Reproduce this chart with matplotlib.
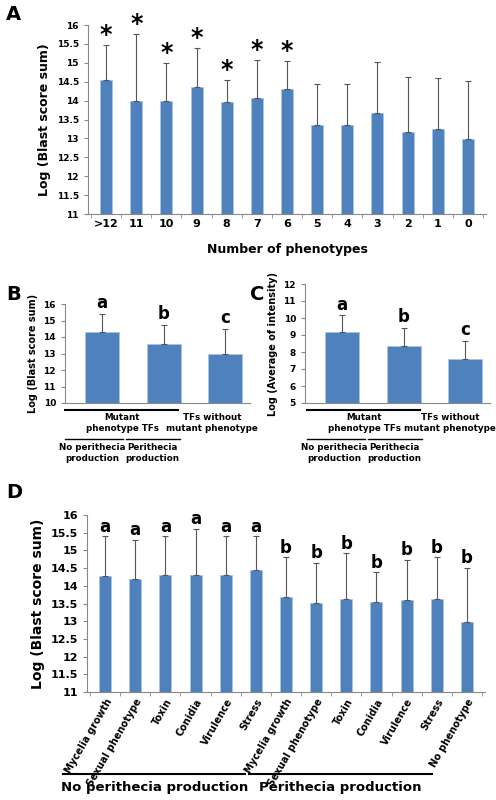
import matplotlib
matplotlib.use("Agg")
import matplotlib.pyplot as plt
from matplotlib.lines import Line2D

a_cats = [">12", "11", "10", "9", "8", "7", "6", "5", "4", "3", "2", "1", "0"]
a_vals = [14.55, 14.0, 14.0, 14.35, 13.97, 14.07, 14.3, 13.35, 13.35, 13.68, 13.17, 13.25, 12.98]
a_top = [15.47, 15.75, 15.0, 15.4, 14.55, 15.07, 15.05, 14.43, 14.43, 15.02, 14.62, 14.6, 14.53]
a_star = [True] * 7 + [False] * 6

b_vals = [14.3, 13.6, 13.0]
b_top = [15.4, 14.75, 14.5]
c_vals = [9.15, 8.35, 7.6]
c_top = [10.15, 9.4, 8.65]
bc_letters = ["a", "b", "c"]

d_cats = ["Mycelia growth", "Sexual phenotype", "Toxin", "Conidia", "Virulence", "Stress",
          "Mycelia growth", "Sexual phenotype", "Toxin", "Conidia", "Virulence", "Stress", "No phenotype"]
d_vals = [14.28, 14.2, 14.3, 14.3, 14.3, 14.45, 13.68, 13.52, 13.62, 13.55, 13.6, 13.62, 12.97]
d_top = [15.4, 15.3, 15.4, 15.6, 15.4, 15.4, 14.8, 14.65, 14.92, 14.38, 14.73, 14.8, 14.5]
d_letters = ["a"] * 6 + ["b"] * 7

W, H = 496, 800
BLUE = "#4f81bd"
fig = plt.figure(figsize=(W / 100, H / 100), dpi=100)

def ax_px(x0, y0, x1, y1):
    return fig.add_axes([x0 / W, 1 - y1 / H, (x1 - x0) / W, (y1 - y0) / H])

def style(ax, fs):
    for s in ["top", "right"]:
        ax.spines[s].set_visible(False)
    for s in ["left", "bottom"]:
        ax.spines[s].set_color("#888888")
    ax.tick_params(axis="y", labelsize=fs, length=3, color="#888888")
    ax.tick_params(axis="x", length=0)

def bars(ax, vals, tops, bottom, width=0.4):
    x = list(range(len(vals)))
    ax.bar(x, [v - bottom for v in vals], bottom=bottom, width=width, color=BLUE,
           edgecolor="#a9c4e6", linewidth=0.6)
    ax.errorbar(x, vals, yerr=[[0] * len(vals), [t - v for t, v in zip(tops, vals)]],
                fmt="none", ecolor="#555555", elinewidth=0.8, capsize=2, capthick=0.8)
    return x

def fline(x0, x1, y, lw=1.5):
    fig.add_artist(Line2D([x0 / W, x1 / W], [1 - y / H, 1 - y / H], color="black", lw=lw))

def ftext(x, y, s, **kw):
    fig.text(x / W, 1 - y / H, s, **kw)

# Panel A
ax = ax_px(88, 25, 486, 214)
x = bars(ax, a_vals, a_top, 11)
ax.set_ylim(11, 16)
ax.set_xlim(-0.6, 12.6)
ax.set_yticks([11, 11.5, 12, 12.5, 13, 13.5, 14, 14.5, 15, 15.5, 16])
ax.set_yticklabels(["11", "11.5", "12", "12.5", "13", "13.5", "14", "14.5", "15", "15.5", "16"], fontweight="bold")
ax.set_xticks(x)
ax.set_xticklabels(a_cats, fontsize=8, fontweight="bold")
style(ax, 6.5)
ax.set_xticks([i + 0.5 for i in range(-1, 13)], minor=True)
ax.tick_params(axis="x", which="minor", length=3, color="#888888")
for i, s in enumerate(a_star):
    if s:
        ax.text(i, a_top[i] - 0.05, "*", ha="center", va="bottom", fontsize=17, fontweight="bold")
ax.set_ylabel("Log (Blast score sum)", fontsize=9, fontweight="bold")
ax.set_xlabel("Number of phenotypes", fontsize=9, fontweight="bold", labelpad=10)
ftext(6, 20, "A", fontsize=14, fontweight="bold")

# Panel B
ax = ax_px(65, 304, 250, 403)
x = bars(ax, b_vals, b_top, 10, width=0.55)
ax.set_ylim(10, 16)
ax.set_xlim(-0.6, 2.4)
ax.set_yticks(range(10, 17))
ax.set_yticklabels([str(v) for v in range(10, 17)], fontweight="bold")
ax.set_xticks([])
style(ax, 6.5)
for i in x:
    ax.text(i, b_top[i] + 0.1, bc_letters[i], ha="center", va="bottom", fontsize=12, fontweight="bold")
ax.set_ylabel("Log (Blast score sum)", fontsize=7, fontweight="bold")
ftext(6, 300, "B", fontsize=14, fontweight="bold")

# Panel C
ax = ax_px(305, 284, 490, 403)
x = bars(ax, c_vals, c_top, 5, width=0.55)
ax.set_ylim(5, 12)
ax.set_xlim(-0.6, 2.4)
ax.set_yticks(range(5, 13))
ax.set_yticklabels([str(v) for v in range(5, 13)], fontweight="bold")
ax.set_xticks([])
style(ax, 6.5)
for i in x:
    ax.text(i, c_top[i] + 0.1, bc_letters[i], ha="center", va="bottom", fontsize=12, fontweight="bold")
ax.set_ylabel("Log (Average of intensity)", fontsize=7, fontweight="bold")
ftext(250, 300, "C", fontsize=14, fontweight="bold")

# B/C group annotations
for off, rx in ((0, 212), (242, 450)):
    fline(65 + off, 178 + off, 410)
    ftext(122 + off, 413, "Mutant\nphenotype TFs", ha="center", va="top", fontsize=6.3, fontweight="bold", linespacing=1.3)
    ftext(rx, 413, "TFs without\nmutant phenotype", ha="center", va="top", fontsize=6.3, fontweight="bold", linespacing=1.3)
    fline(65 + off, 123 + off, 439, lw=1)
    fline(126 + off, 180 + off, 439, lw=1)
    ftext(92 + off, 443, "No perithecia\nproduction", ha="center", va="top", fontsize=6.3, fontweight="bold", linespacing=1.3)
    ftext(152 + off, 443, "Perithecia\nproduction", ha="center", va="top", fontsize=6.3, fontweight="bold", linespacing=1.3)

# Panel D
ax = ax_px(87, 515, 485, 692)
x = bars(ax, d_vals, d_top, 11)
ax.set_ylim(11, 16)
ax.set_xlim(-0.6, 12.6)
ax.set_yticks([11, 11.5, 12, 12.5, 13, 13.5, 14, 14.5, 15, 15.5, 16])
ax.set_yticklabels(["11", "11.5", "12", "12.5", "13", "13.5", "14", "14.5", "15", "15.5", "16"], fontweight="bold")
ax.set_xticks(x)
ax.set_xticklabels(d_cats, fontsize=7, fontweight="bold", rotation=60, ha="right", rotation_mode="anchor")
style(ax, 8)
ax.set_xticks([i + 0.5 for i in range(-1, 13)], minor=True)
ax.tick_params(axis="x", which="minor", length=3, color="#888888")
for i in x:
    ax.text(i, d_top[i] + 0.02, d_letters[i], ha="center", va="bottom", fontsize=12, fontweight="bold")
ax.set_ylabel("Log (Blast score sum)", fontsize=10, fontweight="bold")
ftext(6, 498, "D", fontsize=14, fontweight="bold")
fline(63, 245, 774)
fline(249, 432, 774)
ftext(155, 781, "No perithecia production", ha="center", va="top", fontsize=9.5, fontweight="bold")
ftext(340, 781, "Perithecia production", ha="center", va="top", fontsize=9.5, fontweight="bold")

fig.savefig("out.png", dpi=100)
